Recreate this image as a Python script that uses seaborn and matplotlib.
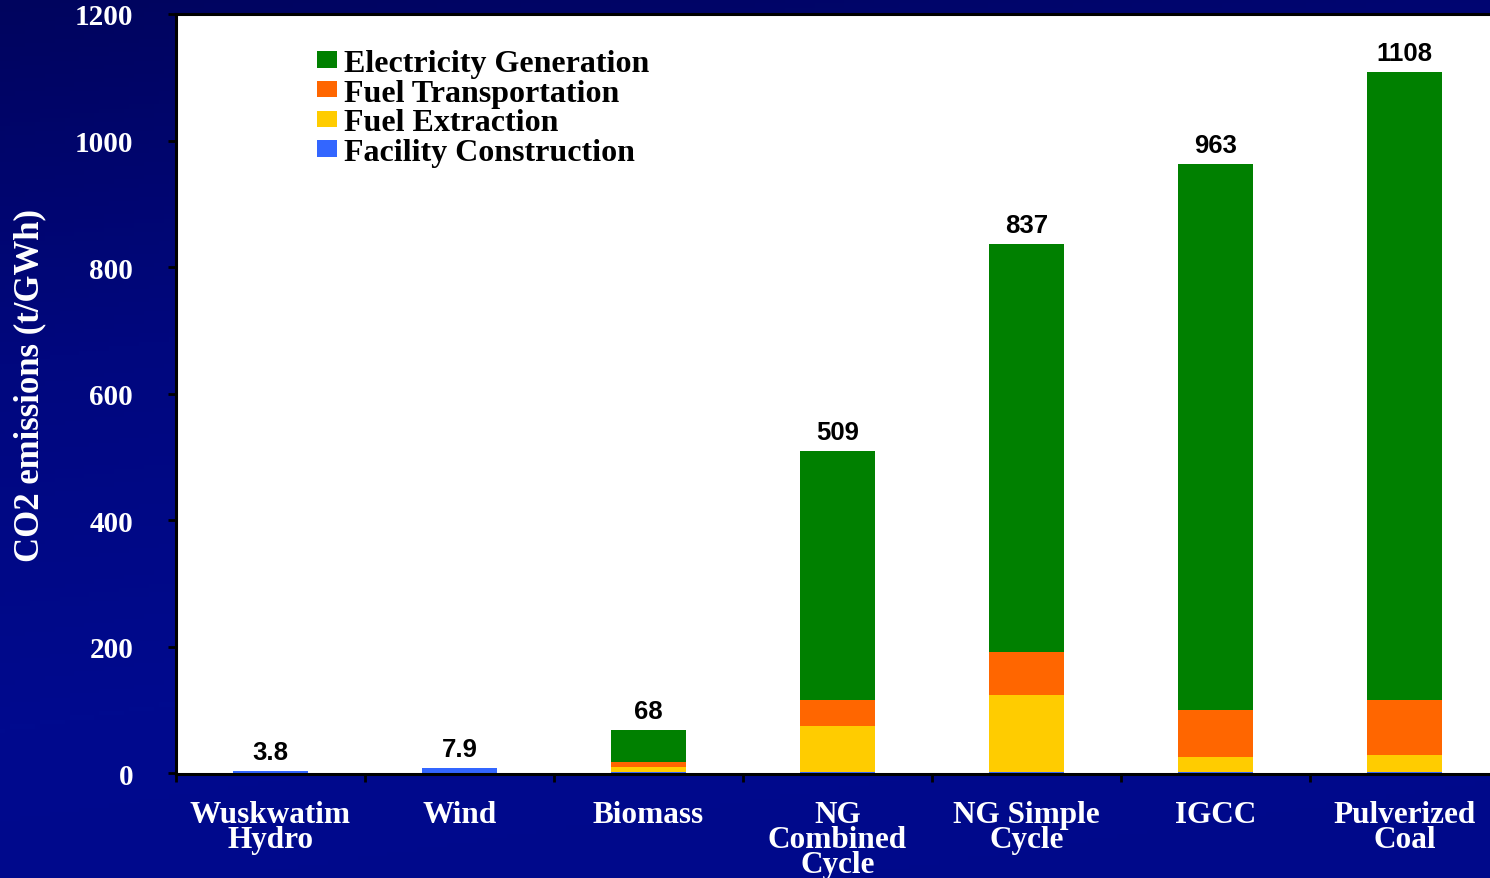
import numpy as np
import pandas as pd
import matplotlib
matplotlib.use("Agg")
import matplotlib.pyplot as plt
from matplotlib.colors import LinearSegmentedColormap
from matplotlib.patches import Patch
import seaborn as sns

# datos (t/GWh)
categorias = ["Wuskwatim\nHydro", "Wind", "Biomass", "NG\nCombined\nCycle",
              "NG Simple\nCycle", "IGCC", "Pulverized\nCoal"]
construccion = [3.8, 7.9, 1, 1, 1, 1, 1]
extraccion = [0, 0, 9, 73, 122, 25, 28]
transporte = [0, 0, 8, 41, 68, 74, 86]
generacion = [0, 0, 50, 394, 646, 863, 993]
etiquetas_total = ["3.8", "7.9", "68", "509", "837", "963", "1108"]

series = ["Electricity Generation", "Fuel Transportation", "Fuel Extraction", "Facility Construction"]
colores = {"Electricity Generation": "#008000", "Fuel Transportation": "#FF6600",
           "Fuel Extraction": "#FFCC00", "Facility Construction": "#3366FF"}

df = pd.DataFrame({"tecnologia": categorias, "Facility Construction": construccion,
                   "Fuel Extraction": extraccion, "Fuel Transportation": transporte,
                   "Electricity Generation": generacion})
# acumulados para apilar
df["c1"] = df["Facility Construction"]
df["c2"] = df["c1"] + df["Fuel Extraction"]
df["c3"] = df["c2"] + df["Fuel Transportation"]
df["c4"] = df["c3"] + df["Electricity Generation"]

sns.set_theme(style="ticks")
plt.rcParams["font.family"] = ["Liberation Serif", "DejaVu Serif"]

fig = plt.figure(figsize=(14.9, 8.79), dpi=100)
fig.patch.set_facecolor("#000780")

# fondo azul degradado
fondo = fig.add_axes([0, 0, 1, 1], zorder=-10)
cmap_fondo = LinearSegmentedColormap.from_list("fondo", ["#00045e", "#00077e", "#000a8e", "#00098a"])
yy, xx = np.mgrid[0:1:200j, 0:1:300j]
grad = 0.8 * yy + 0.2 * xx
fondo.imshow(grad, cmap=cmap_fondo, aspect="auto", extent=[0, 1, 1, 0])
fondo.set_axis_off()

ax = fig.add_axes([176 / 1490, 104 / 879, 1323 / 1490, 760 / 879])
ax.set_facecolor("white")

capas = [("c4", "Electricity Generation"), ("c3", "Fuel Transportation"),
         ("c2", "Fuel Extraction"), ("c1", "Facility Construction")]
for col, nombre in capas:
    sns.barplot(data=df, x="tecnologia", y=col, color=colores[nombre], width=0.4,
                saturation=1, linewidth=0, ax=ax, order=categorias)

for i, txt in enumerate(etiquetas_total):
    ax.annotate(txt, (i, df["c4"][i]), xytext=(0, 5), textcoords="offset points",
                ha="center", va="bottom", fontsize=18.5, fontweight="bold",
                family="Liberation Sans", color="black")

ax.set_xlim(-0.5, 6.5)
ax.set_ylim(-1.5, 1200)
ax.set_yticks(range(0, 1201, 200))
ax.set_xlabel("")
ax.set_ylabel("CO2 emissions (t/GWh)", color="white", fontsize=25, fontweight="bold")
ax.yaxis.set_label_coords(-0.098, 0.513)

for s in ax.spines.values():
    s.set_color("black")
    s.set_linewidth(2.2)

ax.tick_params(axis="y", direction="out", length=5.8, width=2, color="black",
               labelcolor="white", labelsize=21, pad=25)
for t in ax.get_yticklabels():
    t.set_fontweight("bold")
ax.tick_params(axis="x", which="major", length=0, labelcolor="white", labelsize=22.5, pad=19)
for t in ax.get_xticklabels():
    t.set_fontweight("bold")
    t.set_linespacing(0.8)
ax.set_xticks(np.arange(-0.5, 7, 1), minor=True)
ax.tick_params(axis="x", which="minor", direction="out", length=5.8, width=2, color="black")

manijas = [Patch(facecolor=colores[n], edgecolor="none") for n in series]
leg = ax.legend(manijas, series, loc="upper left", bbox_to_anchor=(0.1066, 0.954),
                frameon=False, borderpad=0, borderaxespad=0, handlelength=0.63,
                handleheight=0.4, handletextpad=0.22, labelspacing=0.02,
                labelcolor="black",
                prop={"family": "Liberation Serif", "weight": "bold", "size": 23})

fig.savefig("out.png", dpi=100, facecolor=fig.get_facecolor())
